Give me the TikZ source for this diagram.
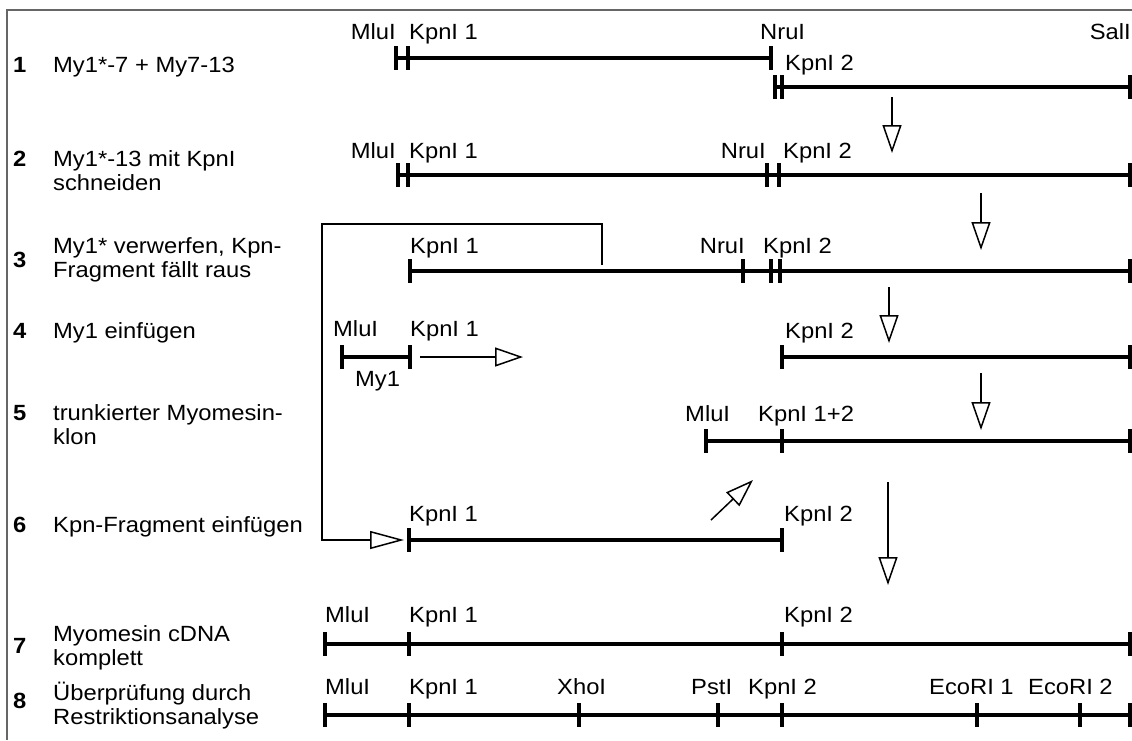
\documentclass[tikz,border=0pt]{standalone}
\usepackage{fontspec}
\setmainfont{Liberation Sans}[FakeStretch=1.08]
\usetikzlibrary{arrows.meta}

\tikzset{
  txt/.style={inner sep=0pt, font=\fontsize{22}{24}\selectfont, anchor=base west},
  stepnum/.style={txt, font=\fontsize{22}{24}\selectfont\bfseries},
  steptext/.style={txt, align=left},
  sitelbl/.style={txt},
  dna/.style={line width=4pt},
  cut/.pic={\draw[line width=4pt] (0,-12) -- (0,12);},
  flow/.style={line width=1.5pt, -{Triangle[open, length=28pt, width=19pt, line width=1.5pt]}},
  bracket/.style={line width=1.5pt, -{Triangle[open, length=34pt, width=18pt, line width=1.5pt]}},
  frame/.style={draw=black!60, line width=1.5pt},
}

\begin{document}
\begin{tikzpicture}[x=1pt, y=-1pt]
\useasboundingbox (0,0) rectangle (1132,740);

% frame
\draw[frame] (7,740) -- (7,10) -- (1132,10);

% step labels (base anchor of a two-line node sits on its last line)
\node[stepnum] (n1) at (13,72) {1};
\node[steptext] (t1) at (53,72) {My1*-7 + My7-13};
\node[stepnum] (n2) at (13,166) {2};
\node[steptext] (t2) at (53,190) {My1*-13 mit KpnI\\schneiden};
\node[stepnum] (n3) at (13,267) {3};
\node[steptext] (t3) at (53,277) {My1* verwerfen, Kpn-\\Fragment fällt raus};
\node[stepnum] (n4) at (13,338) {4};
\node[steptext] (t4) at (53,338) {My1 einfügen};
\node[stepnum] (n5) at (13,420) {5};
\node[steptext] (t5) at (53,444) {trunkierter Myomesin-\\klon};
\node[stepnum] (n6) at (13,532) {6};
\node[steptext] (t6) at (53,532) {Kpn-Fragment einfügen};
\node[stepnum] (n7) at (13,653) {7};
\node[steptext] (t7) at (53,665) {Myomesin cDNA\\komplett};
\node[stepnum] (n8) at (13,708) {8};
\node[steptext] (t8) at (53,724) {Überprüfung durch\\Restriktionsanalyse};

% ---- row 1: two overlapping clones
\coordinate (r1m) at (396,58);
\coordinate (r1k) at (408,58);
\coordinate (r1n) at (771,58);
\draw[dna] (r1m) -- (r1n);
\foreach \c in {r1m,r1k,r1n} \pic at (\c) {cut};
\node[sitelbl, anchor=base east] (l1m) at (396,39) {MluI};
\node[sitelbl] (l1k) at (409,39) {KpnI 1};
\node[sitelbl] (l1n) at (760,39) {NruI};
\node[sitelbl, anchor=base east] (l1s) at (1131,39) {SalI};

\coordinate (r1b1) at (775,87);
\coordinate (r1b2) at (782,87);
\coordinate (r1bs) at (1130,87);
\draw[dna] (r1b1) -- (r1bs);
\foreach \c in {r1b1,r1b2,r1bs} \pic at (\c) {cut};
\node[sitelbl] (l1b) at (785,70) {KpnI 2};

% ---- row 2
\coordinate (r2m) at (398,175);
\coordinate (r2k) at (408,175);
\coordinate (r2n) at (767,175);
\coordinate (r2k2) at (779,175);
\coordinate (r2s) at (1130,175);
\draw[dna] (r2m) -- (r2s);
\foreach \c in {r2m,r2k,r2n,r2k2,r2s} \pic at (\c) {cut};
\node[sitelbl, anchor=base east] (l2m) at (396,158) {MluI};
\node[sitelbl] (l2k) at (409,158) {KpnI 1};
\node[sitelbl, anchor=base east] (l2n) at (766,158) {NruI};
\node[sitelbl] (l2k2) at (783,158) {KpnI 2};

% ---- row 3
\coordinate (r3k) at (410,271);
\coordinate (r3n) at (743,271);
\coordinate (r3a) at (771,271);
\coordinate (r3b) at (780,271);
\coordinate (r3s) at (1130,271);
\draw[dna] (r3k) -- (r3s);
\foreach \c in {r3k,r3n,r3a,r3b,r3s} \pic at (\c) {cut};
\node[sitelbl] (l3k) at (410,253) {KpnI 1};
\node[sitelbl, anchor=base east] (l3n) at (745,253) {NruI};
\node[sitelbl] (l3k2) at (763,253) {KpnI 2};

% ---- row 4
\coordinate (r4m) at (342,357);
\coordinate (r4k) at (410,357);
\draw[dna] (r4m) -- (r4k);
\foreach \c in {r4m,r4k} \pic at (\c) {cut};
\node[sitelbl] (l4m) at (333,336) {MluI};
\node[sitelbl] (l4k) at (410,336) {KpnI 1};
\node[sitelbl] (l4my) at (355,386) {My1};
\coordinate (r4k2) at (782,357);
\coordinate (r4s) at (1130,357);
\draw[dna] (r4k2) -- (r4s);
\foreach \c in {r4k2,r4s} \pic at (\c) {cut};
\node[sitelbl] (l4k2) at (785,338) {KpnI 2};
\coordinate (a4s) at (420,357);
\coordinate (a4e) at (523,357);
\draw[flow] (a4s) -- (a4e);

% ---- row 5
\coordinate (r5m) at (706,441);
\coordinate (r5k) at (782,441);
\coordinate (r5s) at (1130,441);
\draw[dna] (r5m) -- (r5s);
\foreach \c in {r5m,r5k,r5s} \pic at (\c) {cut};
\node[sitelbl] (l5m) at (685,421) {MluI};
\node[sitelbl] (l5k) at (758,421) {KpnI 1+2};

% ---- row 6
\coordinate (r6k) at (409,540);
\coordinate (r6k2) at (782,540);
\draw[dna] (r6k) -- (r6k2);
\foreach \c in {r6k,r6k2} \pic at (\c) {cut};
\node[sitelbl] (l6k) at (409,521) {KpnI 1};
\node[sitelbl] (l6k2) at (784,521) {KpnI 2};
\coordinate (d6s) at (711,520);
\coordinate (d6e) at (753,480);
\draw[flow] (d6s) -- (d6e);

% ---- row 7
\coordinate (r7m) at (325,644);
\coordinate (r7k) at (409,644);
\coordinate (r7k2) at (782,644);
\coordinate (r7s) at (1130,644);
\draw[dna] (r7m) -- (r7s);
\foreach \c in {r7m,r7k,r7k2,r7s} \pic at (\c) {cut};
\node[sitelbl] (l7m) at (325,622) {MluI};
\node[sitelbl] (l7k) at (409,622) {KpnI 1};
\node[sitelbl] (l7k2) at (784,622) {KpnI 2};

% ---- row 8
\coordinate (r8m) at (325,715);
\coordinate (r8k) at (409,715);
\coordinate (r8x) at (579,715);
\coordinate (r8p) at (718,715);
\coordinate (r8k2) at (782,715);
\coordinate (r8e1) at (977,715);
\coordinate (r8e2) at (1080,715);
\coordinate (r8s) at (1130,715);
\draw[dna] (r8m) -- (r8s);
\foreach \c in {r8m,r8k,r8x,r8p,r8k2,r8e1,r8e2,r8s} \pic at (\c) {cut};
\node[sitelbl] (l8m) at (325,694) {MluI};
\node[sitelbl] (l8k) at (409,694) {KpnI 1};
\node[sitelbl] (l8x) at (557,694) {XhoI};
\node[sitelbl] (l8p) at (691,694) {PstI};
\node[sitelbl] (l8k2) at (748,694) {KpnI 2};
\node[sitelbl] (l8e1) at (929,694) {EcoRI 1};
\node[sitelbl] (l8e2) at (1028,694) {EcoRI 2};

% ---- flow arrows between steps
\coordinate (a1s) at (892,97);  \coordinate (a1e) at (892,153);
\coordinate (a2s) at (981,193); \coordinate (a2e) at (981,250);
\coordinate (a3s) at (889,287); \coordinate (a3e) at (889,343);
\coordinate (a4vs) at (981,373); \coordinate (a4ve) at (981,430);
\coordinate (a5s) at (888,482); \coordinate (a5e) at (888,585);
\draw[flow] (a1s) -- (a1e);
\draw[flow] (a2s) -- (a2e);
\draw[flow] (a3s) -- (a3e);
\draw[flow] (a4vs) -- (a4ve);
\draw[flow] (a5s) -- (a5e);

% ---- Kpn fragment carried from step 3 to step 6
\coordinate (bTop) at (602,224);
\coordinate (bLeft) at (322,224);
\coordinate (bLow) at (322,540);
\coordinate (bStart) at (602,265);
\draw[bracket] (bStart) -- (bTop) -- (bLeft) -- (bLow) -- ([xshift=-5pt]r6k);
\end{tikzpicture}
\end{document}
